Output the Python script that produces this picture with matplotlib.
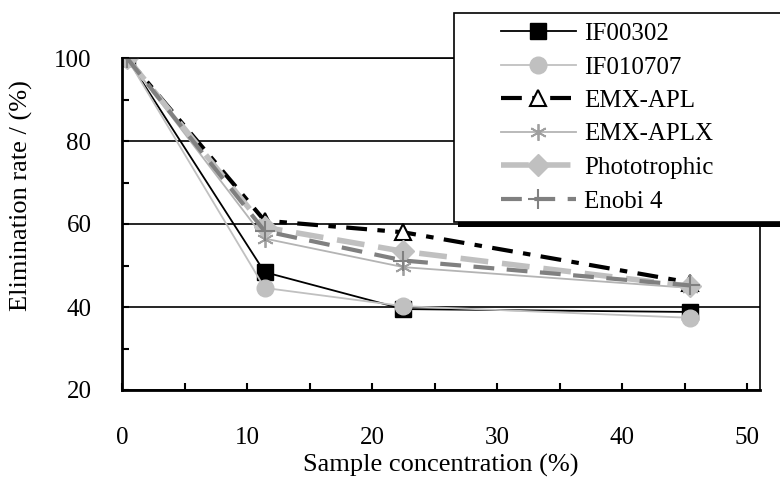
import matplotlib.pyplot as plt
from matplotlib.patches import Rectangle
from matplotlib.ticker import MultipleLocator

plt.rcParams['font.family'] = ['Liberation Serif', 'DejaVu Serif']
plt.rcParams['font.size'] = 18

# data
conc = [0.4, 11.4, 22.5, 45.4]
if00302 = [100, 48.4, 39.5, 38.8]
if010707 = [100, 44.6, 40.2, 37.4]
emx_apl = [100, 60.8, 58.0, 45.9]
emx_aplx = [100, 56.5, 49.6, 44.6]
phototrophic = [100, 59.2, 53.4, 45.0]
enobi4 = [100, 58.3, 51.2, 45.2]

fig = plt.figure(figsize=(7.8, 4.91), dpi=100)
ax = fig.add_axes([122 / 780, 101 / 491, 638 / 780, 332 / 491])

ax.plot(conc, if00302, color='black', lw=1.3, marker='s', ms=12,
        mfc='black', mec='black', label='IF00302')
ax.plot(conc, if010707, color='#c0c0c0', lw=1.3, marker='o', ms=12,
        mfc='#c0c0c0', mec='#c0c0c0', label='IF010707')
ax.plot(conc, emx_apl, color='black', lw=3, dashes=(5, 2.5, 1.8, 2.5),
        marker='^', ms=12, mfc='white', mec='black', mew=1.5, label='EMX-APL')
ax.plot(conc, emx_aplx, color='#b4b4b4', lw=1.3, marker=(6, 2, 0), ms=12,
        mec='#a0a0a0', mew=1.3, label='EMX-APLX')
ax.plot(conc, phototrophic, color='#c0c0c0', lw=4, dashes=(5, 2.5),
        marker='D', ms=11, mfc='#c0c0c0', mec='#c0c0c0', label='Phototrophic')
ax.plot(conc, enobi4, color='#808080', lw=3, dashes=(5, 3),
        marker='+', ms=14, mec='#808080', mew=1.5, label='Enobi 4')

ax.set_xlim(0, 51)
ax.set_ylim(20, 100)
ax.xaxis.set_major_locator(MultipleLocator(10))
ax.xaxis.set_minor_locator(MultipleLocator(5))
ax.yaxis.set_major_locator(MultipleLocator(20))
ax.yaxis.set_minor_locator(MultipleLocator(10))
ax.tick_params(which='both', direction='in', length=5, width=1.5, color='black')
ax.tick_params(axis='x', which='major', pad=27)
ax.tick_params(axis='y', which='major', pad=22)
ax.grid(axis='y', which='major', color='black', lw=1.2)
ax.set_axisbelow(True)

for side in ['left', 'bottom']:
    ax.spines[side].set_linewidth(2)
for side in ['top', 'right']:
    ax.spines[side].set_linewidth(1.2)

ax.set_xlabel('Sample concentration (%)', fontsize=19, labelpad=3.5)
ax.set_ylabel('Elimination rate / (%)', fontsize=19)
ax.yaxis.set_label_coords(-0.139, 0.587)

# legend box with Excel-like shadow at the bottom
fig.patches.append(Rectangle((458 / 780, (491 - 227) / 491), 0.6, 210 / 491,
                             transform=fig.transFigure, facecolor='black',
                             edgecolor='none', zorder=3))
fig.patches.append(Rectangle((454 / 780, (491 - 222) / 491), 0.6, 209 / 491,
                             transform=fig.transFigure, facecolor='white',
                             edgecolor='black', lw=1.2, zorder=4))
leg = fig.legend(loc='upper left', bbox_to_anchor=(488 / 780, 1 - 10 / 491),
                 frameon=False, handlelength=3.0, handletextpad=0.35,
                 labelspacing=0.44, borderpad=0, fontsize=18)
leg.set_zorder(10)

fig.savefig('out.png', dpi=100)
